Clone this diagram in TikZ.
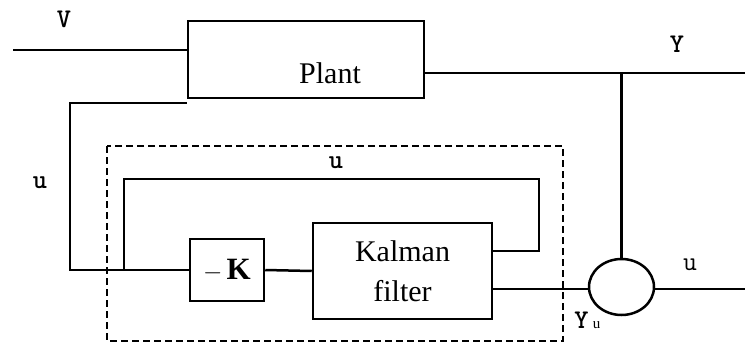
\documentclass[tikz,border=0pt]{standalone}
\usepackage{fontspec}
\setmainfont{Liberation Serif}
\newfontfamily\sigfont{Latin Modern Mono Light}
\usetikzlibrary{positioning, calc, shapes.geometric}

\begin{document}
\begin{tikzpicture}[x=1pt, y=-1pt, line width=2.5pt,
    block/.style={rectangle, draw, inner sep=0pt, font=\fontsize{30}{40}\selectfont, align=center},
    txt/.style={inner sep=0pt, font=\fontsize{30}{40}\selectfont, anchor=base},
    sig/.style={font=\fontsize{27}{27}\selectfont\sigfont\bfseries, inner sep=0pt, anchor=base},
    mixer/.style={ellipse, draw, minimum width=65pt, minimum height=56pt, inner sep=0pt},
    boundary/.style={dash pattern=on 7pt off 4pt, line width=2pt}]
    \useasboundingbox (0,0) rectangle (747,343);
    % blocks
    \node[block, minimum width=236pt, minimum height=77pt] (plant) at (306,59.5) {};
    \node[txt] (ptext) at (330,83) {Plant};
    \node[block, minimum width=74pt, minimum height=62pt, font=\fontsize{31}{31}\selectfont] (gain) at (227,270) {$-\,\mathbf{K}$};
    \node[block, minimum width=179pt, minimum height=96pt] (kalman) at (402.5,271) {Kalman\\filter};
    \node[mixer] (mix) at (621.5,287) {};
    % estimator boundary
    \draw[boundary] (107,146) rectangle (563,341);
    % signal points
    \coordinate (vin) at (13,50);
    \coordinate (ubot) at (70,270);
    \coordinate (utop) at (70,103);
    \coordinate (tap) at (124,270);
    \coordinate (loop) at (539,179);
    \coordinate (yout) at (745,73);
    \coordinate (uout) at (745,289);
    % wiring
    \draw (vin) -- (vin -| plant.west);
    \draw (gain.west) -- (ubot) |- (utop -| plant.west);
    \draw (tap) |- (loop) |- ($(kalman.east)+(0,-20)$);
    \draw (gain.east) -- (kalman.west);
    \draw ($(kalman.east)+(0,18)$) -- (mix.west |- 0,289);
    \draw (yout -| plant.east) -- (yout);
    \draw (mix.north) -- (mix.north |- yout);
    \draw (mix.east |- uout) -- (uout);
    % labels
    \node[sig] (lv) at (64,27) {V};
    \node[sig] (ly) at (677,52) {Y};
    \node[sig] (lu1) at (40,188) {u};
    \node[sig] (lu2) at (336,168) {u};
    \node[sig, font=\fontsize{27}{27}\selectfont\ttfamily] (lu3) at (690,270) {u};
    \node[sig, anchor=base west] (lyu) at (573,328) {Y\,{\rmfamily\mdseries\fontsize{15}{15}\selectfont u}};
\end{tikzpicture}
\end{document}
